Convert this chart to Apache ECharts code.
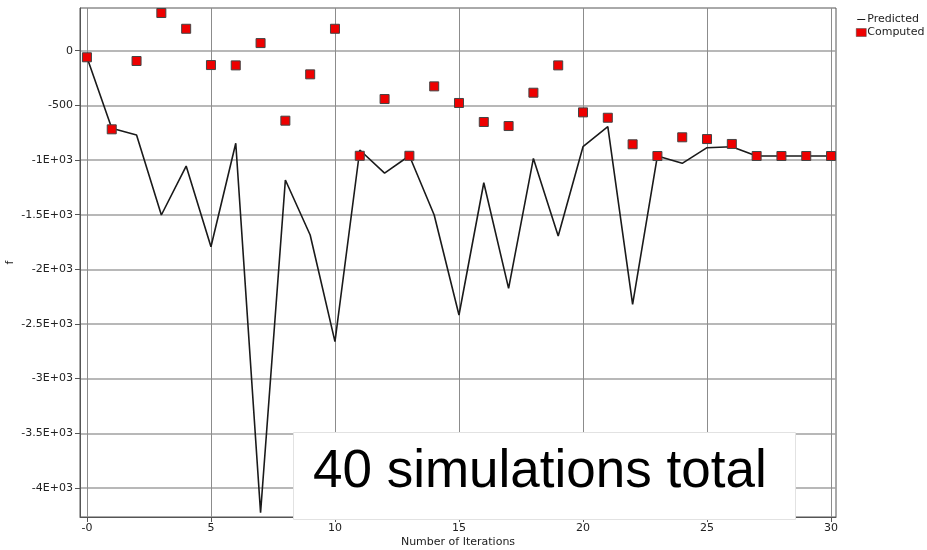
<!DOCTYPE html>
<html>
<head>
<meta charset="utf-8">
<title>Predicted vs Computed</title>
<script src="https://cdn.jsdelivr.net/npm/echarts@6/dist/echarts.min.js"></script>
<style>
  html, body { margin: 0; padding: 0; background: #fff; }
  #chart { width: 927px; height: 550px; }
</style>
</head>
<body>
<div id="chart"></div>
<script>
// Iteration index for each simulation step
const iterations = [0,1,2,3,4,5,6,7,8,9,10,11,12,13,14,15,16,17,18,19,20,21,22,23,24,25,26,27,28,29,30];

// Objective value predicted by the surrogate model
const predicted = [-60,-710,-771,-1503,-1055,-1793,-847,-4227,-1183,-1686,-2662,-908,-1120,-961,-1503,-2418,
  -1208,-2174,-985,-1695,-878,-695,-2320,-963,-1030,-887,-878,-963,-963,-963,-963];

// Objective value from the actual simulation
const computed = [-60,-719,-94,345,201,-131,-134,70,-640,-216,201,-961,-442,-961,-326,-478,
  -652,-689,-384,-134,-564,-613,-856,-963,-792,-808,-853,-963,-963,-963,-963];

// Axis ticks and their printed labels
const xTicks = [0,5,10,15,20,25,30];
const xTickLabels = ['-0','5','10','15','20','25','30'];
const yTicks = [0,-500,-1000,-1500,-2000,-2500,-3000,-3500,-4000];
const yTickLabels = ['0','-500','-1E+03','-1.5E+03','-2E+03','-2.5E+03','-3E+03','-3.5E+03','-4E+03'];

const note = '40 simulations total';

const chart = echarts.init(document.getElementById('chart'), null, { renderer: 'canvas' });

const labelFont = { fontFamily: 'DejaVu Sans', fontSize: 11, color: '#222' };

// thin horizontal bar inside a square box, used as the line legend icon
const lineIcon = 'path://M0,4.3H10V5.7H0Z M0,0H0.01V10H0Z';

chart.setOption({
  animation: false,
  backgroundColor: '#fff',
  grid: {
    left: 80, right: 91, top: 8, bottom: 33,
    outerBoundsMode: 'none', containLabel: false,
    show: true, borderColor: '#555', borderWidth: 1, backgroundColor: 'transparent'
  },
  legend: {
    left: 851, top: 8, orient: 'vertical',
    itemWidth: 10, itemHeight: 8, itemGap: 0,
    textStyle: { fontFamily: 'DejaVu Sans', fontSize: 11, color: '#222', padding: [0, 0, 0, -4], lineHeight: 13 },
    data: [
      { name: 'Predicted', icon: lineIcon, itemStyle: { color: '#1a1a1a', borderWidth: 0 } },
      { name: 'Computed', icon: 'rect', itemStyle: { color: '#ee0000', borderColor: '#444', borderWidth: 0.5 } }
    ]
  },
  xAxis: {
    type: 'value',
    min: -0.28, max: 30.2,
    name: 'Number of Iterations',
    nameLocation: 'middle', nameGap: 20, nameMoveOverlap: false,
    nameTextStyle: labelFont,
    axisLine: { show: true, onZero: false, lineStyle: { color: '#555' } },
    axisTick: { show: true, length: 5, inside: false, customValues: xTicks, lineStyle: { color: '#555' } },
    axisLabel: {
      ...labelFont, margin: 6, customValues: xTicks,
      formatter: v => xTickLabels[xTicks.indexOf(v)]
    },
    splitLine: { show: true, lineStyle: { color: '#8c8c8c', width: 1 } }
  },
  yAxis: {
    type: 'value',
    min: -4266, max: 391,
    name: 'f',
    nameLocation: 'middle', nameGap: 64, nameRotate: 90, nameMoveOverlap: false,
    nameTextStyle: labelFont,
    axisLine: { show: true, onZero: false, lineStyle: { color: '#555' } },
    axisTick: { show: true, length: 5, inside: false, customValues: yTicks, lineStyle: { color: '#555' } },
    axisLabel: {
      ...labelFont, margin: 7, customValues: yTicks,
      formatter: v => yTickLabels[yTicks.indexOf(v)]
    },
    splitLine: { show: true, lineStyle: { color: '#a0a0a0', width: 1.5 } }
  },
  series: [
    {
      name: 'Predicted',
      type: 'line',
      data: iterations.map((x, i) => [x, predicted[i]]),
      symbol: 'none',
      lineStyle: { color: '#1a1a1a', width: 1.6 },
      itemStyle: { color: '#1a1a1a' },
      z: 2
    },
    {
      name: 'Computed',
      type: 'scatter',
      data: iterations.map((x, i) => [x, computed[i]]),
      symbol: 'rect',
      symbolSize: 9,
      itemStyle: { color: '#ee0000', borderColor: '#444', borderWidth: 1, opacity: 1 },
      z: 3
    }
  ],
  graphic: [
    {
      type: 'rect', left: 293, top: 432, z: 100,
      shape: { width: 502, height: 87 },
      style: { fill: '#fff', stroke: '#e2e2e2', lineWidth: 1 }
    },
    {
      type: 'text', left: 313, top: 446, z: 101,
      style: { text: note, fill: '#000', font: '53px "Liberation Sans", Arial, sans-serif' }
    }
  ]
});
</script>
</body>
</html>
